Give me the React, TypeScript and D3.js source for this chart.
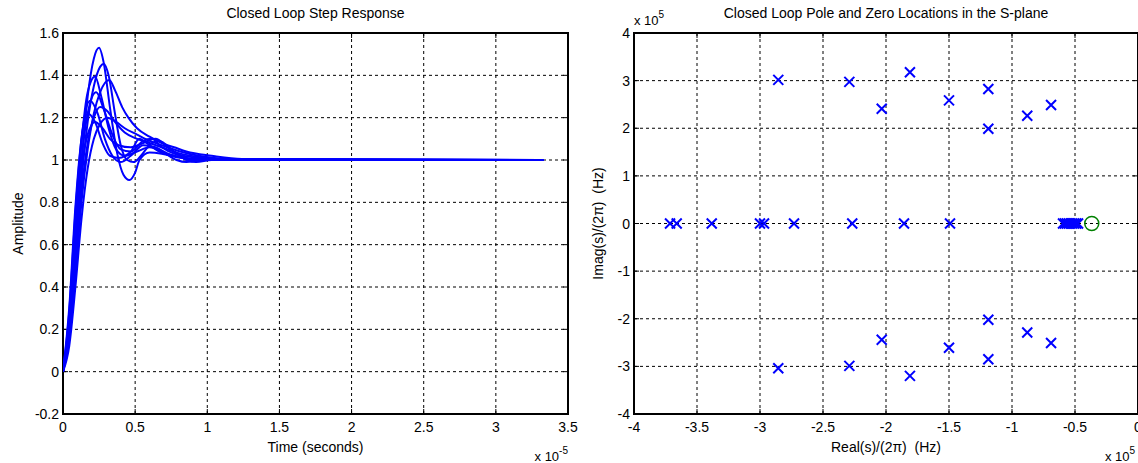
import React from "react";
import * as d3 from "d3";

// ---------- Left: step responses (time in units of 1e-5 s) ----------
const timeTicks = [0, 0.5, 1, 1.5, 2, 2.5, 3, 3.5];
const timeTickLabels = ["0", "0.5", "1", "1.5", "2", "2.5", "3", "3.5"];
const ampTicks = [-0.2, 0, 0.2, 0.4, 0.6, 0.8, 1, 1.2, 1.4, 1.6];
const ampTickLabels = ["-0.2", "0", "0.2", "0.4", "0.6", "0.8", "1", "1.2", "1.4", "1.6"];

const curve1 = [[0,0],[0.043,0.2],[0.086,0.58],[0.128,0.98],[0.171,1.3],[0.214,1.48],[0.25,1.53],[0.282,1.46],[0.325,1.25],[0.376,1.03],[0.419,0.93],[0.46,0.905],[0.5,0.94],[0.53,1.0],[0.6,1.035],[0.684,1.03],[0.812,1.01],[1.03,1.0],[3.33,1.0]];
const curve2 = [[0,0],[0.043,0.18],[0.086,0.52],[0.128,0.9],[0.171,1.18],[0.214,1.35],[0.257,1.44],[0.282,1.455],[0.316,1.4],[0.36,1.22],[0.4,1.07],[0.445,1.0],[0.49,0.99],[0.54,1.02],[0.615,1.08],[0.667,1.09],[0.77,1.04],[0.9,1.0],[1.03,1.0],[3.33,1.0]];
const curve3 = [[0,0],[0.043,0.25],[0.086,0.68],[0.128,1.08],[0.171,1.32],[0.222,1.394],[0.265,1.3],[0.316,1.15],[0.368,1.05],[0.428,1.02],[0.513,1.04],[0.6,1.06],[0.684,1.04],[0.787,1.0],[0.855,0.99],[0.94,1.0],[1.11,1.005],[3.33,1.0]];
const curve4 = [[0,0],[0.043,0.15],[0.086,0.45],[0.128,0.8],[0.171,1.05],[0.214,1.22],[0.257,1.32],[0.321,1.378],[0.36,1.33],[0.41,1.25],[0.453,1.2],[0.513,1.15],[0.6,1.11],[0.684,1.08],[0.77,1.06],[0.855,1.04],[1.03,1.02],[1.24,1.005],[3.33,1.0]];
const curve5 = [[0,0],[0.043,0.22],[0.086,0.63],[0.128,1.0],[0.171,1.22],[0.23,1.32],[0.282,1.24],[0.342,1.12],[0.4,1.05],[0.47,1.04],[0.556,1.09],[0.615,1.1],[0.684,1.06],[0.77,1.03],[0.94,1.01],[1.2,1.0],[3.33,1.0]];
const curve6 = [[0,0],[0.043,0.28],[0.086,0.75],[0.128,1.1],[0.188,1.28],[0.24,1.22],[0.29,1.1],[0.342,1.02],[0.4,0.99],[0.47,1.02],[0.556,1.07],[0.64,1.06],[0.727,1.03],[0.855,1.01],[1.11,1.0],[3.33,1.0]];
const curve7 = [[0,0],[0.043,0.17],[0.086,0.5],[0.128,0.85],[0.171,1.08],[0.214,1.2],[0.257,1.25],[0.308,1.23],[0.36,1.18],[0.428,1.13],[0.513,1.1],[0.6,1.08],[0.684,1.06],[0.812,1.03],[0.983,1.01],[1.2,1.0],[3.33,1.0]];
const curve8 = [[0,0],[0.043,0.3],[0.086,0.78],[0.128,1.1],[0.171,1.22],[0.222,1.18],[0.274,1.08],[0.325,1.02],[0.385,1.01],[0.47,1.04],[0.53,1.1],[0.58,1.08],[0.667,1.04],[0.77,1.02],[0.94,1.0],[3.33,1.0]];
const curve9 = [[0,0],[0.043,0.12],[0.086,0.4],[0.128,0.72],[0.171,0.96],[0.214,1.1],[0.257,1.17],[0.308,1.2],[0.368,1.18],[0.428,1.15],[0.513,1.12],[0.6,1.09],[0.684,1.07],[0.812,1.04],[0.94,1.02],[1.15,1.005],[3.33,1.0]];
const curve10 = [[0,0],[0.043,0.2],[0.086,0.6],[0.128,0.95],[0.171,1.12],[0.222,1.18],[0.274,1.15],[0.325,1.1],[0.385,1.07],[0.47,1.06],[0.556,1.08],[0.64,1.1],[0.727,1.06],[0.855,1.0],[0.923,0.99],[1.03,1.0],[1.2,1.0],[3.33,1.0]];
const stepCurves = [curve1, curve2, curve3, curve4, curve5, curve6, curve7, curve8, curve9, curve10];

// ---------- Right: poles and zeros (units of 1e5 Hz) ----------
const reTicks = [-4, -3.5, -3, -2.5, -2, -1.5, -1, -0.5, 0];
const reTickLabels = ["-4", "-3.5", "-3", "-2.5", "-2", "-1.5", "-1", "-0.5", "0"];
const imTicks = [-4, -3, -2, -1, 0, 1, 2, 3, 4];
const imTickLabels = ["-4", "-3", "-2", "-1", "0", "1", "2", "3", "4"];

const poleRe = [
  -3.714, -3.661, -3.383, -3.0, -2.968, -2.73, -2.268, -1.857, -1.492,
  -0.595, -0.58, -0.565, -0.55, -0.535, -0.52, -0.505, -0.49, -0.476,
  -2.855, -2.291, -2.034, -1.81, -1.5, -1.188, -1.188, -0.879, -0.69,
  -2.855, -2.291, -2.034, -1.81, -1.5, -1.188, -1.188, -0.879, -0.69,
];
const poleIm = [
  0, 0, 0, 0, 0, 0, 0, 0, 0,
  0, 0, 0, 0, 0, 0, 0, 0, 0,
  3.015, 2.973, 2.41, 3.175, 2.585, 2.825, 1.99, 2.263, 2.488,
  -3.04, -2.99, -2.44, -3.2, -2.61, -2.85, -2.02, -2.29, -2.51,
];
const zeroRe = [-0.367];
const zeroIm = [0];

const FONT = "'Liberation Sans', Arial, Helvetica, sans-serif";
const FS = 14;

function Frame({ x0, x1, y0, y1, xs, ys, xTicks, yTicks, xLabels, yLabels }) {
  const tl = 5;
  return (
    <g>
      {xTicks.map((t, i) =>
        i > 0 && i < xTicks.length - 1 ? (
          <line key={"gx" + i} x1={xs(t)} x2={xs(t)} y1={y0} y2={y1} stroke="#000" strokeWidth={1} strokeDasharray="3,3" />
        ) : null
      )}
      {yTicks.map((t, i) =>
        i > 0 && i < yTicks.length - 1 ? (
          <line key={"gy" + i} x1={x0} x2={x1} y1={ys(t)} y2={ys(t)} stroke="#000" strokeWidth={1} strokeDasharray="3,3" />
        ) : null
      )}
      {xTicks.map((t, i) => (
        <g key={"tx" + i}>
          <line x1={xs(t)} x2={xs(t)} y1={y1} y2={y1 - tl} stroke="#000" strokeWidth={1} />
          <line x1={xs(t)} x2={xs(t)} y1={y0} y2={y0 + tl} stroke="#000" strokeWidth={1} />
          <text x={xs(t)} y={y1 + 18} textAnchor="middle" fontSize={FS} fontFamily={FONT}>{xLabels[i]}</text>
        </g>
      ))}
      {yTicks.map((t, i) => (
        <g key={"ty" + i}>
          <line x1={x0} x2={x0 + tl} y1={ys(t)} y2={ys(t)} stroke="#000" strokeWidth={1} />
          <line x1={x1} x2={x1 - tl} y1={ys(t)} y2={ys(t)} stroke="#000" strokeWidth={1} />
          <text x={x0 - 4} y={ys(t) + 5} textAnchor="end" fontSize={FS} fontFamily={FONT}>{yLabels[i]}</text>
        </g>
      ))}
      <rect x={x0} y={y0} width={x1 - x0} height={y1 - y0} fill="none" stroke="#000" strokeWidth={2} />
    </g>
  );
}

export default function App() {
  const top = 33, bottom = 414;
  const L0 = 63, L1 = 568;
  const R0 = 634, R1 = 1138;

  const xsL = d3.scaleLinear().domain([0, 3.5]).range([L0, L1]);
  const ysL = d3.scaleLinear().domain([-0.2, 1.6]).range([bottom, top]);
  const xsR = d3.scaleLinear().domain([-4, 0]).range([R0, R1]);
  const ysR = d3.scaleLinear().domain([-4, 4]).range([bottom, top]);

  const line = d3.line().x((d) => xsL(d[0])).y((d) => ysL(d[1])).curve(d3.curveMonotoneX);
  const m = 5;

  return (
    <svg width={1138} height={463} style={{ position: "absolute", left: 0, top: 0, background: "#fff" }}>
      <defs>
        <clipPath id="clipL"><rect x={L0} y={top} width={L1 - L0} height={bottom - top} /></clipPath>
      </defs>
      <rect x={0} y={0} width={1138} height={463} fill="#fff" />
      {/* Left plot */}
      <Frame x0={L0} x1={L1} y0={top} y1={bottom} xs={xsL} ys={ysL} xTicks={timeTicks} yTicks={ampTicks} xLabels={timeTickLabels} yLabels={ampTickLabels} />
      <g clipPath="url(#clipL)">
        {stepCurves.map((c, i) => (
          <path key={i} d={line(c)} fill="none" stroke="#0000ff" strokeWidth={2} />
        ))}
      </g>
      <text x={(L0 + L1) / 2} y={18} textAnchor="middle" fontSize={FS} fontFamily={FONT}>Closed Loop Step Response</text>
      <text x={(L0 + L1) / 2} y={452} textAnchor="middle" fontSize={FS} fontFamily={FONT}>Time (seconds)</text>
      <text transform={`translate(23,${(top + bottom) / 2}) rotate(-90)`} textAnchor="middle" fontSize={FS} fontFamily={FONT}>Amplitude</text>
      <text x={L1} y={461} textAnchor="end" fontSize={13} fontFamily={FONT}>x 10<tspan dy={-7} fontSize={10}>-5</tspan></text>

      {/* Right plot */}
      <Frame x0={R0} x1={R1} y0={top} y1={bottom} xs={xsR} ys={ysR} xTicks={reTicks} yTicks={imTicks} xLabels={reTickLabels} yLabels={imTickLabels} />
      {poleRe.map((r, i) => {
        const cx = xsR(r), cy = ysR(poleIm[i]);
        return (
          <path key={"p" + i} d={`M${cx - m},${cy - m}L${cx + m},${cy + m}M${cx - m},${cy + m}L${cx + m},${cy - m}`} stroke="#0000ff" strokeWidth={2} fill="none" />
        );
      })}
      {zeroRe.map((r, i) => (
        <circle key={"z" + i} cx={xsR(r)} cy={ysR(zeroIm[i])} r={7} fill="none" stroke="#008000" strokeWidth={1.5} />
      ))}
      <text x={(R0 + R1) / 2} y={18} textAnchor="middle" fontSize={FS} fontFamily={FONT}>Closed Loop Pole and Zero Locations in the S-plane</text>
      <text x={(R0 + R1) / 2} y={452} textAnchor="middle" fontSize={FS} fontFamily={FONT} xmlSpace="preserve">Real(s)/(2π)  (Hz)</text>
      <text transform={`translate(603,${(top + bottom) / 2}) rotate(-90)`} textAnchor="middle" fontSize={FS} fontFamily={FONT} xmlSpace="preserve">Imag(s)/(2π)  (Hz)</text>
      <text x={R0} y={25} fontSize={13} fontFamily={FONT}>x 10<tspan dy={-7} fontSize={10}>5</tspan></text>
      <text x={1105} y={461} fontSize={13} fontFamily={FONT}>x 10<tspan dy={-7} fontSize={10}>5</tspan></text>
    </svg>
  );
}
